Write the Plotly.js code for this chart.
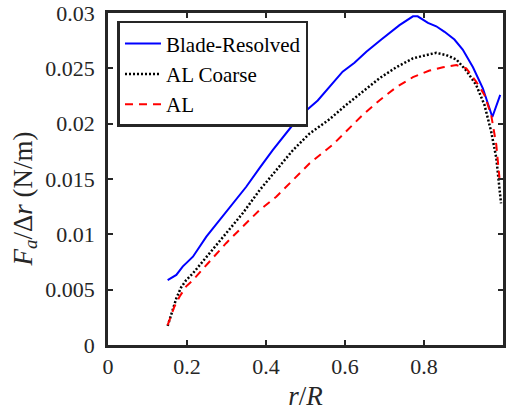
<!DOCTYPE html>
<html>
<head>
<meta charset="utf-8">
<script src="https://cdn.plot.ly/plotly-3.0.1.min.js"></script>
</head>
<body style="margin:0">
<div id="chart" style="width:507px;height:415px"></div>
<script>
// Blade-Resolved
var bladeX = [0.151,0.173,0.189,0.215,0.249,0.282,0.316,0.350,0.384,0.417,0.468,0.502,0.531,0.561,0.594,0.624,0.654,0.692,0.717,0.738,0.772,0.784,0.810,0.831,0.852,0.877,0.898,0.924,0.949,0.973,0.993];
var bladeY = [0.00587,0.00633,0.00708,0.00798,0.00979,0.01129,0.0128,0.0143,0.0160,0.0176,0.0199,0.0212,0.0221,0.0233,0.0247,0.0255,0.0265,0.0276,0.0283,0.0289,0.0297,0.0297,0.0291,0.0288,0.0283,0.0276,0.0267,0.0251,0.0232,0.0206,0.0226];
// AL Coarse
var coarseX = [0.151,0.163,0.173,0.185,0.198,0.215,0.257,0.299,0.341,0.384,0.426,0.468,0.510,0.561,0.603,0.645,0.687,0.730,0.772,0.806,0.831,0.856,0.882,0.907,0.932,0.953,0.970,0.983,0.995];
var coarseY = [0.00172,0.0031,0.00422,0.0052,0.00587,0.00648,0.00829,0.0101,0.0119,0.0140,0.0158,0.0176,0.0191,0.0204,0.0217,0.0229,0.0241,0.0251,0.0259,0.0262,0.0264,0.0262,0.0258,0.0248,0.0235,0.0217,0.0193,0.0169,0.0128];
// AL
var alX = [0.151,0.168,0.181,0.198,0.215,0.257,0.299,0.341,0.384,0.426,0.468,0.510,0.569,0.603,0.645,0.687,0.730,0.772,0.814,0.848,0.882,0.907,0.932,0.953,0.970,0.983,0.991];
var alY = [0.0018,0.00346,0.00436,0.0053,0.00587,0.0075,0.0092,0.0107,0.0122,0.0134,0.0149,0.0164,0.0181,0.0193,0.0208,0.0221,0.0233,0.0242,0.0248,0.0251,0.0253,0.0250,0.0238,0.0226,0.0208,0.0181,0.0151];

var seriesNames = ['Blade-Resolved','AL Coarse','AL'];
var xTicks = [0,0.2,0.4,0.6,0.8,1];
var xTickText = ['0','0.2','0.4','0.6','0.8','1'];
var yTicks = [0,0.005,0.01,0.015,0.02,0.025,0.03];
var yTickText = ['0','0.005','0.01','0.015','0.02','0.025','0.03'];

var FONT = 'Liberation Serif';
var AX = '#262626';

var traces = [
  {x: bladeX, y: bladeY, name: seriesNames[0], mode: 'lines', line: {color: '#0000ff', width: 2}},
  {x: coarseX, y: coarseY, name: seriesNames[1], mode: 'lines', line: {color: '#000000', width: 2.5, dash: '2px,2px'}},
  {x: alX, y: alY, name: seriesNames[2], mode: 'lines', line: {color: '#ff0000', width: 2, dash: '8px,6px'}}
];

var layout = {
  width: 507, height: 415,
  margin: {l: 108, r: 4, t: 13, b: 70},
  paper_bgcolor: '#ffffff', plot_bgcolor: '#ffffff',
  font: {family: FONT},
  showlegend: true,
  legend: {
    x: 0.024, y: 0.976, xanchor: 'left', yanchor: 'top',
    bgcolor: '#ffffff', bordercolor: AX, borderwidth: 2.5,
    font: {family: FONT, size: 21, color: '#000000'},
    itemwidth: 36
  },
  xaxis: {
    range: [0, 1], tickvals: xTicks, ticktext: xTickText,
    showgrid: false, zeroline: false,
    showline: true, mirror: 'ticks', linecolor: AX, linewidth: 2.5,
    ticks: 'inside', ticklen: 5, tickwidth: 2, tickcolor: AX,
    tickfont: {family: FONT, size: 22, color: AX},
    title: {text: '<i>r</i>/<i>R</i>', font: {family: FONT, size: 27, color: AX}, standoff: 8}
  },
  yaxis: {
    range: [0, 0.03], tickvals: yTicks, ticktext: yTickText,
    showgrid: false, zeroline: false,
    showline: true, mirror: 'ticks', linecolor: AX, linewidth: 2.5,
    ticks: 'inside', ticklen: 5, tickwidth: 2, tickcolor: AX,
    ticklabelstandoff: 6,
    tickfont: {family: FONT, size: 22, color: AX}
  },
  annotations: [{
    xref: 'paper', yref: 'paper', x: -0.211, y: 0.44,
    xanchor: 'center', yanchor: 'middle', textangle: -90, showarrow: false,
    text: '<i>F</i><sub><i>a</i></sub>/Δ<i>r</i> (N/m)',
    font: {family: FONT, size: 27, color: AX}
  }]
};

function forceSerif() {
  var nodes = document.querySelectorAll('#chart text, #chart tspan');
  for (var i = 0; i < nodes.length; i++) {
    nodes[i].setAttribute('font-family', FONT);
    nodes[i].style.fontFamily = "'Liberation Serif'";
  }
}

Plotly.newPlot('chart', traces, layout, {displayModeBar: false}).then(forceSerif);
document.getElementById('chart').on && document.getElementById('chart').on('plotly_afterplot', forceSerif);
</script>
</body>
</html>
